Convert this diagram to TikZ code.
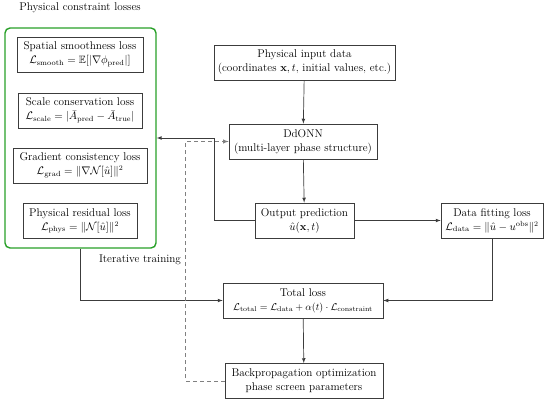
\documentclass[tikz,border=0pt]{standalone}
\usepackage{amsmath,amssymb}
\usepackage{tikz}
\usetikzlibrary{shapes,arrows,positioning,calc}
\definecolor{boxgray}{RGB}{60,60,60}
\definecolor{consgreen}{RGB}{40,160,40}
\newcommand{\formula}[2][10.6]{{\fontsize{#1}{14}\selectfont$#2$}}

\begin{document}
\begin{tikzpicture}[x=1pt, y=-1pt, >=latex,
    font=\fontsize{11.2}{14}\selectfont,
    block/.style={draw=boxgray, line width=0.7pt, fill=white, align=center,
      minimum height=35, inner sep=2pt},
    link/.style={draw=boxgray, line width=0.7pt, ->},
    feedback/.style={draw=gray, line width=0.9pt, dash pattern=on 4pt off 3pt, ->}]
  \useasboundingbox (0,0) rectangle (550,400);
  % physical constraint group
  \node (title) at (80,8) {Physical constraint losses};
  \node[draw=consgreen, line width=1.4pt, rounded corners=5pt,
    minimum width=151, minimum height=220] (cons) at (80.5,138) {};
  \node[block, minimum width=126] (smooth) at (80,54.5)
    {Spatial smoothness loss\\\formula{\mathcal{L}_{\text{smooth}} = \mathbb{E}[|\nabla \phi_{\text{pred}}|]}};
  \node[block, minimum width=124] (scale) at (80,110.5)
    {Scale conservation loss\\\formula{\mathcal{L}_{\text{scale}} = |\bar{A}_{\text{pred}} - \bar{A}_{\text{true}}|}};
  \node[block, minimum width=134] (grad) at (80,165.5)
    {Gradient consistency loss\\\formula{\mathcal{L}_{\text{grad}} = \|\nabla \mathcal{N}[\hat{u}]\|^2}};
  \node[block, minimum width=114] (phys) at (80,221)
    {Physical residual loss\\\formula{\mathcal{L}_{\text{phys}} = \|\mathcal{N}[\hat{u}]\|^2}};
  % main flow
  \node[block, minimum width=181] (input) at (304.5,62.5)
    {Physical input data\\(coordinates $\mathbf{x}, t$, initial values, etc.)};
  \node[block, minimum width=148] (ddonn) at (303,141.5)
    {DdONN\\(multi-layer phase structure)};
  \node[block, minimum width=99] (output) at (304.5,220.5)
    {Output prediction\\\formula{\hat{u}(\mathbf{x}, t)}};
  \node[block, minimum width=102] (data) at (492,220.5)
    {Data fitting loss\\\formula{\mathcal{L}_{\text{data}} = \|\hat{u} - u^{\text{obs}}\|^2}};
  \node[block, minimum width=160] (total) at (303,300.5)
    {Total loss\\\formula[10]{\mathcal{L}_{\text{total}} = \mathcal{L}_{\text{data}} + \alpha(t) \cdot \mathcal{L}_{\text{constraint}}}};
  \node[block, minimum width=158] (backprop) at (304,381)
    {Backpropagation optimization\\phase screen parameters};
  \node (iter) at (140,260) {Iterative training};
  % connectors
  \draw[link] (input) -- (ddonn);
  \draw[link] (ddonn) -- (output);
  \draw[link] (output) -- (data);
  \draw[link] (output.west) -- ++(-40,0) |- (cons.east);
  \draw[link] (cons.south) |- (total.west);
  \draw[link] (data.south) |- (total.east);
  \draw[link] (total) -- (backprop);
  \draw[feedback] (backprop.west) -- ++(-39,0) |- (ddonn.west);
\end{tikzpicture}
\end{document}
